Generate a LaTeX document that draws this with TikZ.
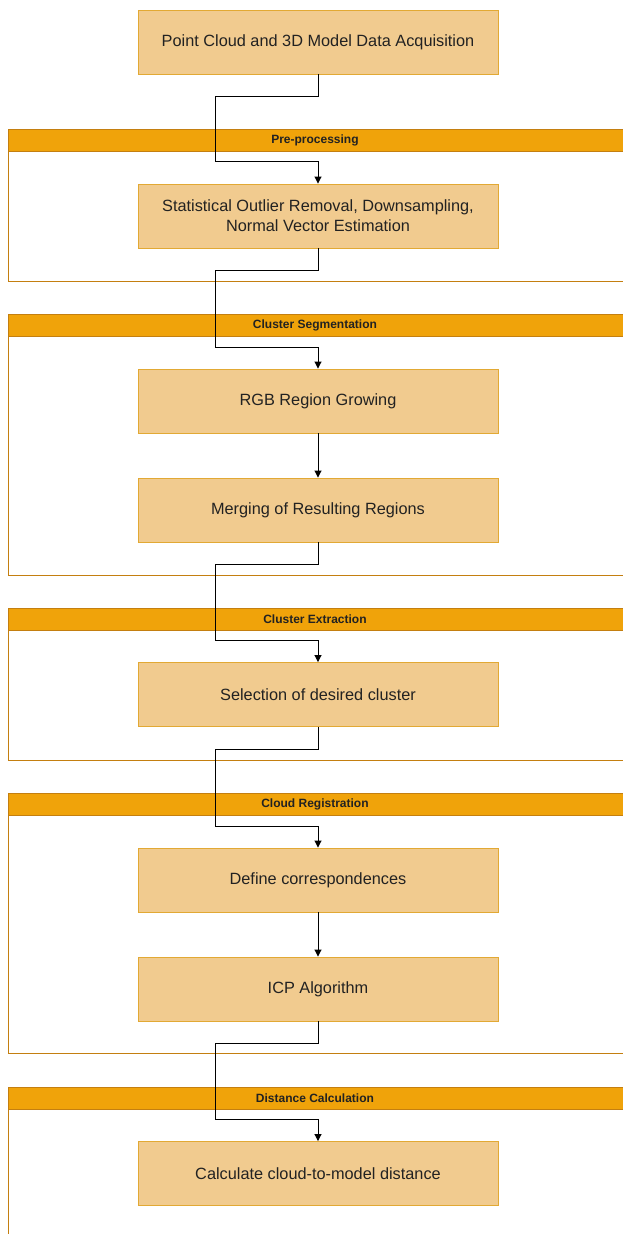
\documentclass[tikz,border=0pt]{standalone}
\usepackage{fontspec}
\setmainfont{Liberation Sans}
\usetikzlibrary{arrows.meta}
\definecolor{boxfill}{HTML}{F1CB8F}
\definecolor{boxline}{HTML}{E2A934}
\definecolor{headfill}{HTML}{F0A30A}
\definecolor{headline}{HTML}{C47F10}
\definecolor{txt}{HTML}{222222}
\tikzset{
  stepbox/.style={draw=boxline, line width=0.9pt, fill=boxfill, minimum width=360pt, minimum height=64pt, inner sep=0pt, align=center, text=txt, font=\fontsize{16.3}{20}\selectfont},
  header/.style={draw=headline, line width=0.9pt, fill=headfill, minimum width=622pt, minimum height=22pt, inner sep=0pt, anchor=north west, text=txt, font=\bfseries\fontsize{12}{13}\selectfont},
  cbody/.style={draw=headline, line width=0.9pt},
  arr/.style={draw=black, line width=0.9pt, -{Triangle[length=7pt,width=7pt]}}
}
\begin{document}
\begin{tikzpicture}[x=1pt,y=-1pt]
\clip (0,0) rectangle (623,1234);
\fill[white] (0,0) rectangle (623,1234);
% containers
\draw[cbody] (8,151) rectangle (630,281);
\node[header] (h1) at (8,129) {\hspace*{-9pt}Pre-processing};
\draw[cbody] (8,336) rectangle (630,575);
\node[header] (h2) at (8,314) {\hspace*{-9pt}Cluster Segmentation};
\draw[cbody] (8,630) rectangle (630,760);
\node[header] (h3) at (8,608) {\hspace*{-9pt}Cluster Extraction};
\draw[cbody] (8,815) rectangle (630,1053);
\node[header] (h4) at (8,793) {\hspace*{-9pt}Cloud Registration};
\draw[cbody] (8,1109) rectangle (630,1300);
\node[header] (h5) at (8,1087) {\hspace*{-9pt}Distance Calculation};
% boxes
\node[stepbox] (b1) at (318,42) {Point Cloud and 3D Model Data Acquisition};
\node[stepbox] (b2) at (318,216) {Statistical Outlier Removal, Downsampling,\\Normal Vector Estimation};
\node[stepbox] (b3) at (318,401) {RGB Region Growing};
\node[stepbox] (b4) at (318,510) {Merging of Resulting Regions};
\node[stepbox] (b5) at (318,694.5) {Selection of desired cluster};
\node[stepbox] (b6) at (318,880) {Define correspondences};
\node[stepbox] (b7) at (318,989) {ICP Algorithm};
\node[stepbox] (b8) at (318,1173.5) {Calculate cloud-to-model distance};
% connectors
\draw[arr] (b1.south) -- (318,96) -- (215,96) -- (215,161) -- (318,161) -- (b2.north);
\draw[arr] (b2.south) -- (318,270) -- (215,270) -- (215,347) -- (318,347) -- (b3.north);
\draw[arr] (b3.south) -- (b4.north);
\draw[arr] (b4.south) -- (318,564) -- (215,564) -- (215,640) -- (318,640) -- (b5.north);
\draw[arr] (b5.south) -- (318,749) -- (215,749) -- (215,826) -- (318,826) -- (b6.north);
\draw[arr] (b6.south) -- (b7.north);
\draw[arr] (b7.south) -- (318,1043) -- (215,1043) -- (215,1119) -- (318,1119) -- (b8.north);
\end{tikzpicture}
\end{document}
